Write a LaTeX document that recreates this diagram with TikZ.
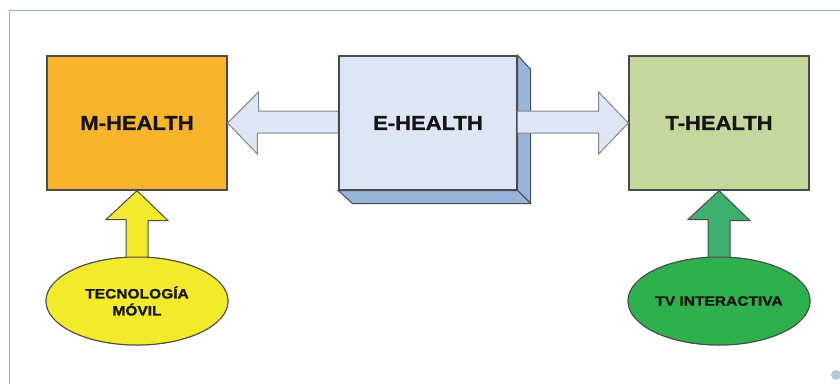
\documentclass[tikz,border=0pt]{standalone}
\usepackage{fontspec}
\setmainfont{Liberation Sans}
\newfontfamily\widefont[FakeStretch=1.1,FakeBold=1.2]{Liberation Sans Bold}
\newfontfamily\widerfont[FakeStretch=1.15,FakeBold=1.2]{Liberation Sans Bold}
\usetikzlibrary{shapes.geometric,calc}
\definecolor{frameblue}{HTML}{8FAFD0}
\definecolor{morange}{HTML}{F8B52B}
\definecolor{efront}{HTML}{DCE6F4}
\definecolor{eside}{HTML}{98B4DA}
\definecolor{tgreen}{HTML}{C4D89E}
\definecolor{yel}{HTML}{F2EA2A}
\definecolor{grn}{HTML}{2FB04E}
\definecolor{grnarrow}{HTML}{3DB070}
\definecolor{outl}{HTML}{4A4A4A}
\definecolor{arrowl}{HTML}{808890}
\definecolor{dotc}{HTML}{B8C8D8}
\definecolor{txt}{HTML}{151515}
\tikzset{
  box/.style={draw=outl, line width=1.3pt, minimum width=180pt, minimum height=134pt, inner sep=0pt, font=\widefont\fontsize{20}{24}\selectfont, text=txt},
  oval/.style={ellipse, draw=outl, line width=1pt, minimum width=182pt, minimum height=88pt, inner sep=0pt, font=\widerfont\fontsize{13.5}{17}\selectfont, align=center, text=txt},
  blockarrow/.style={draw=arrowl, line width=1pt, fill=efront, line join=miter},
  uparrow/.style={draw=outl, line width=1pt, line join=miter}
}
\begin{document}
\begin{tikzpicture}[x=1pt,y=-1pt]
\useasboundingbox (0,0) rectangle (840,383);
\fill[white] (0,0) rectangle (840,383);
\draw[frameblue, line width=1pt] (9,390) -- (9,10) -- (850,10);
\fill[dotc] (836,375) circle (5);
\node[box, fill=morange] (m) at (137,123) {M-HEALTH};
\node[box, fill=tgreen] (t) at (719,123) {T-HEALTH};
\node[box, fill=efront, minimum width=178pt] (e) at (428,123) {};
% left block arrow (behind E box)
\draw[blockarrow] (m.east) -- ++(31,-31) -- ++(0,19) -- ($(e.west)+(0,-12)$) -- ($(e.west)+(0,10)$) -- ++(-81,0) -- ++(0,21) -- cycle;
% E box 3D faces
\fill[eside, draw=outl, line width=1pt] (e.north east) -- ++(13,14) -- ++(0,134) -- (e.south east) -- cycle;
\fill[eside, draw=outl, line width=1pt] (e.south west) -- (e.south east) -- ++(13,13) -- ++(-178,0) -- cycle;
\node[box, fill=efront, minimum width=178pt] (e2) at (e) {E-HEALTH};
% right block arrow
\draw[blockarrow] ($(e.east)+(0,-12)$) -- ++(81,0) -- ++(0,-19) coordinate (rh) -- (t.west) -- ($(rh)+(0,62)$) -- ++(0,-21) -- ($(e.east)+(0,10)$);
% up arrows
\node[oval, fill=yel] (tm) at (137,301) {TECNOLOGÍA\\MÓVIL};
\node[oval, fill=grn] (tv) at (719,301) {TV INTERACTIVA};
\draw[uparrow, fill=yel] (m.south) -- ++(31,30) -- ++(-20,0) -- ($(tm.north)+(11,1)$) -- ($(tm.north)+(-11,1)$) -- ++(0,-38) -- ++(-20,0) -- cycle;
\draw[uparrow, fill=grnarrow] (t.south) -- ++(31,30) -- ++(-20,0) -- ($(tv.north)+(11,1)$) -- ($(tv.north)+(-11,1)$) -- ++(0,-38) -- ++(-20,0) -- cycle;
\node[oval, fill=yel] at (tm) {TECNOLOGÍA\\MÓVIL};
\node[oval, fill=grn] at (tv) {TV INTERACTIVA};
\end{tikzpicture}
\end{document}
